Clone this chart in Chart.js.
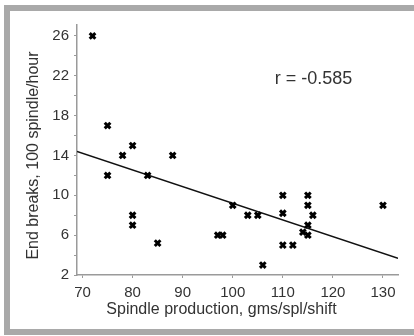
<!DOCTYPE html>
<html>
<head>
<meta charset="utf-8"/>
<title>End breaks vs spindle production</title>
<script src="https://cdn.jsdelivr.net/npm/chart.js"></script>
<style type="text/css">
html, body{
  margin: 0;
  padding: 0;
  background-color: #fff;
  width: 414px;
  height: 336px;
  overflow: hidden;
}
#frame{
  position: absolute;
  left: 4px;
  top: 5px;
  width: 500px;
  height: 330px;
  box-sizing: border-box;
  border: 6px solid #a9a9a9;
  background-color: #fff;
}
#scatter{
  position: absolute;
  left: 0;
  top: 0;
}
</style>
</head>
<body>
<div id="frame"></div>
<canvas id="scatter" width="414" height="336"></canvas>
<script>
// spindle production (gms/spl/shift) and end breaks (per 100 spindle/hour)
const spindleProduction = [72, 75, 78, 80, 88, 75, 83, 80, 80, 85, 97, 98, 100, 103, 105, 106, 110, 110, 110, 112, 114, 115, 115, 115, 115, 116, 130];
const endBreaks = [26, 17, 14, 15, 14, 12, 12, 8, 7, 5.2, 6, 6, 9, 8, 8, 3, 10, 8.2, 5, 5, 6.3, 10, 9, 7, 6, 8, 9];

const xTicks = [70, 80, 90, 100, 110, 120, 130];
const yTicks = [2, 4, 6, 8, 10, 12, 14, 16, 18, 20, 22, 24, 26];
const yTickLabels = [2, 6, 10, 14, 18, 22, 26];

const xTitle = 'Spindle production, gms/spl/shift';
const yTitle = 'End breaks, 100 spindle/hour';
const correlationLabel = 'r = -0.585';

const xRange = [68.9, 133];
const yRange = [2, 27.1];

const FONT = '"Liberation Sans", Arial, sans-serif';
const AXIS_GREY = '#9a9a9a';

let points = [];
for( let i = 0; i < spindleProduction.length; i++ ){
  points.push({ x: spindleProduction[i], y: endBreaks[i] });
}

// least squares line across the whole x range
function fitLine( xs, ys ){
  let n = xs.length;
  let mx = xs.reduce( (a, b) => a + b, 0 ) / n;
  let my = ys.reduce( (a, b) => a + b, 0 ) / n;
  let sxy = 0, sxx = 0;
  for( let i = 0; i < n; i++ ){
    sxy += (xs[i] - mx) * (ys[i] - my);
    sxx += (xs[i] - mx) * (xs[i] - mx);
  }
  let slope = sxy / sxx;
  return { slope: slope, intercept: my - slope * mx };
}
const fit = fitLine( spindleProduction, endBreaks );
const trend = xRange.map( x => ({ x: x, y: fit.intercept + fit.slope * x }) );

// axis titles and the r value, placed by hand
const textPlugin = {
  id: 'chartText',
  afterDraw( chart ){
    const ctx = chart.ctx;
    ctx.save();
    ctx.fillStyle = '#333';
    ctx.textAlign = 'center';
    ctx.textBaseline = 'alphabetic';

    ctx.font = '16px ' + FONT;
    ctx.fillText( xTitle, 221.5, 314 );

    ctx.save();
    ctx.translate( 37.5, 155.5 );
    ctx.rotate( -Math.PI / 2 );
    ctx.fillText( yTitle, 0, 0 );
    ctx.restore();

    ctx.font = '18px ' + FONT;
    ctx.fillText( correlationLabel, 313.5, 84 );
    ctx.restore();
  }
};

const tickFont = { family: FONT, size: 15 };

new Chart( document.getElementById( 'scatter' ), {
  type: 'scatter',
  data: {
    datasets: [{
      data: points,
      pointStyle: 'crossRot',
      pointRadius: 4,
      pointHoverRadius: 4,
      borderColor: '#000',
      backgroundColor: '#000',
      borderWidth: 3
    }, {
      data: trend,
      showLine: true,
      borderColor: '#111',
      borderWidth: 1.5,
      pointRadius: 0,
      pointHoverRadius: 0
    }]
  },
  options: {
    responsive: false,
    animation: false,
    devicePixelRatio: 1,
    layout: { padding: { left: 0, top: 25, right: 16, bottom: 0 } },
    plugins: {
      legend: { display: false },
      tooltip: { enabled: false }
    },
    scales: {
      x: {
        type: 'linear',
        min: xRange[0],
        max: xRange[1],
        afterBuildTicks: function( scale ){
          scale.ticks = xTicks.map( v => ({ value: v }) );
        },
        afterFit: function( scale ){ scale.height = 61; },
        grid: { display: true, drawOnChartArea: false, drawTicks: true, tickLength: 3, tickColor: AXIS_GREY },
        border: { display: true, color: AXIS_GREY, width: 1.5 },
        ticks: { autoSkip: false, maxRotation: 0, padding: 6, color: '#333', font: tickFont }
      },
      y: {
        type: 'linear',
        min: yRange[0],
        max: yRange[1],
        afterBuildTicks: function( scale ){
          scale.ticks = yTicks.map( v => ({ value: v }) );
        },
        afterFit: function( scale ){ scale.width = 77; },
        grid: { display: true, drawOnChartArea: false, drawTicks: true, tickLength: 3, tickColor: AXIS_GREY },
        border: { display: true, color: AXIS_GREY, width: 1.5 },
        ticks: {
          autoSkip: false,
          padding: 5,
          color: '#333',
          font: tickFont,
          callback: function( value ){
            return yTickLabels.includes( value ) ? String( value ) : '';
          }
        }
      }
    }
  },
  plugins: [ textPlugin ]
});
</script>
</body>
</html>
